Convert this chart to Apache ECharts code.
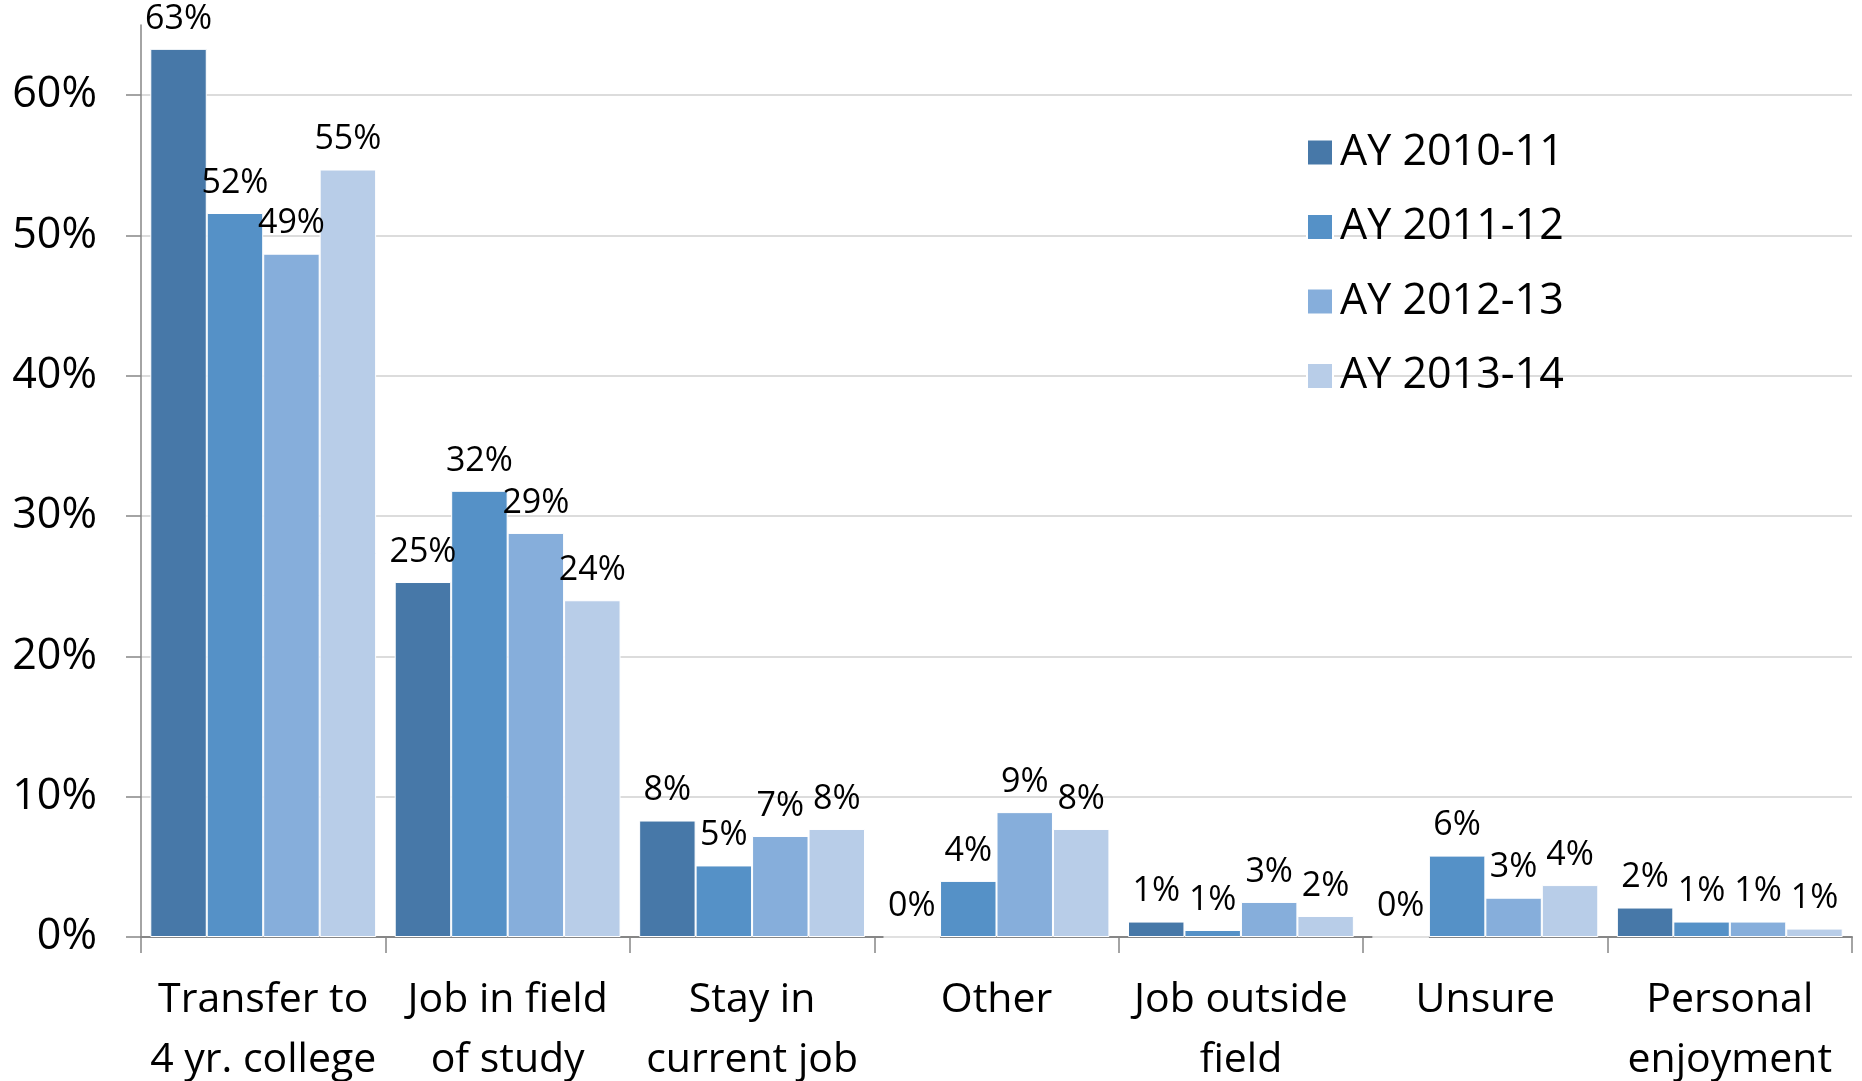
<!DOCTYPE html>
<html>
<head>
<meta charset="utf-8">
<script src="https://cdn.jsdelivr.net/npm/echarts@6/dist/echarts.min.js"></script>
<style>
  html, body { margin: 0; padding: 0; background: #fff; }
  #chart { width: 1862px; height: 1081px; }
</style>
</head>
<body>
<div id="chart"></div>
<script>
const categories = [
  'Transfer to\n4 yr. college',
  'Job in field\nof study',
  'Stay in\ncurrent job',
  'Other',
  'Job outside\nfield',
  'Unsure',
  'Personal\nenjoyment'
]
const seriesNames = ['AY 2010-11', 'AY 2011-12', 'AY 2012-13', 'AY 2013-14']
const ay1011 = [63.3, 25.3, 8.3, 0, 1.1, 0, 2.1]
const ay1112 = [51.6, 31.8, 5.1, 4.0, 0.5, 5.8, 1.1]
const ay1213 = [48.7, 28.8, 7.2, 8.9, 2.5, 2.8, 1.1]
const ay1314 = [54.7, 24.0, 7.7, 7.7, 1.5, 3.7, 0.6]
const yTicks = [0, 10, 20, 30, 40, 50, 60]

const colors = ['#4778a8', '#5591c7', '#86aedb', '#b8cde8']
const font = '"Open Sans", "Noto Sans", sans-serif'

const chart = echarts.init(document.getElementById('chart'))

const makeSeries = (name, data, i) => ({
  name,
  type: 'bar',
  data,
  barGap: '0%',
  barCategoryGap: '7.6%',
  itemStyle: { color: colors[i], borderColor: '#fff', borderWidth: 1 },
  label: {
    show: true,
    position: 'top',
    distance: 13,
    color: '#000',
    fontFamily: font,
    fontSize: 34,
    formatter: p => Math.round(p.value) + '%'
  }
})

const option = {
  backgroundColor: '#fff',
  animation: false,
  color: colors,
  grid: { left: 141, right: 10, top: 25, bottom: 144, outerBoundsMode: 'none' },
  legend: {
    orient: 'vertical',
    left: 1301,
    top: 126,
    itemWidth: 26,
    itemHeight: 26,
    itemGap: 31.5,
    icon: 'rect',
    data: seriesNames,
    textStyle: { fontFamily: font, fontSize: 43, color: '#000', padding: [0, 0, 0, 2] }
  },
  xAxis: {
    type: 'category',
    data: categories,
    axisLine: { lineStyle: { color: '#868686', width: 2 } },
    axisTick: { show: true, length: 16, alignWithLabel: false, interval: 0, lineStyle: { color: '#868686', width: 1.5 } },
    axisLabel: {
      interval: 0,
      margin: 33,
      color: '#000',
      fontFamily: font,
      fontSize: 41,
      lineHeight: 60
    }
  },
  yAxis: {
    type: 'value',
    min: 0,
    max: 65,
    interval: 10,
    axisLine: { show: true, lineStyle: { color: '#868686', width: 1.5 } },
    axisTick: { show: true, length: 15, customValues: yTicks, lineStyle: { color: '#868686', width: 1.5 } },
    axisLabel: {
      customValues: yTicks,
      margin: 44,
      color: '#000',
      fontFamily: font,
      fontSize: 43,
      formatter: '{value}%'
    },
    splitLine: {
      show: true,
      lineStyle: {
        color: ['#d0d0d0', '#d0d0d0', '#d0d0d0', '#d0d0d0', '#d0d0d0', '#d0d0d0', '#d0d0d0', 'rgba(0,0,0,0)'],
        width: 1.5
      }
    }
  },
  series: [
    makeSeries(seriesNames[0], ay1011, 0),
    makeSeries(seriesNames[1], ay1112, 1),
    makeSeries(seriesNames[2], ay1213, 2),
    makeSeries(seriesNames[3], ay1314, 3)
  ]
}

chart.setOption(option)
</script>
</body>
</html>
